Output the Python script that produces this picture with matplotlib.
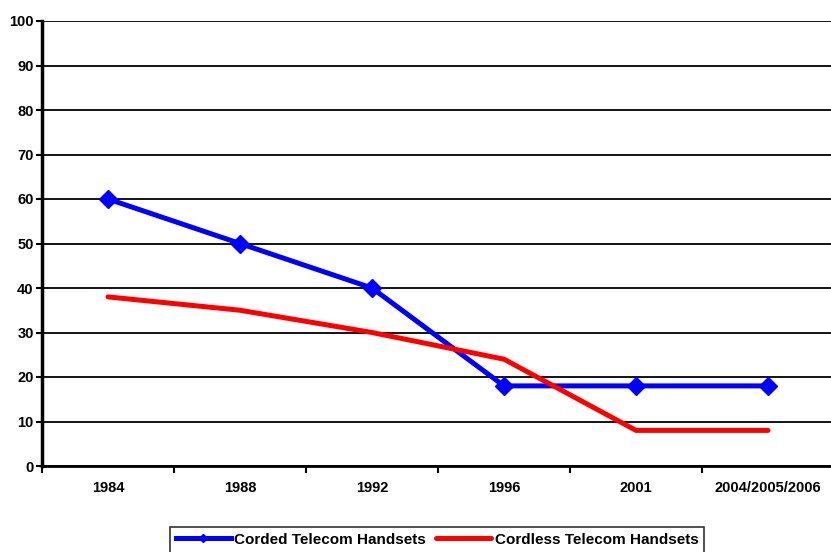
import matplotlib
matplotlib.use("Agg")
import matplotlib.pyplot as plt
import numpy as np

plt.rcParams['font.family'] = ['Liberation Sans', 'DejaVu Sans']

years = ['1984', '1988', '1992', '1996', '2001', '2004/2005/2006']
corded = [60, 50, 40, 18, 18, 18]
cordless = [38, 35, 30, 24, 8, 8]

fig = plt.figure(figsize=(8.31, 5.52), dpi=100)
ax = fig.add_axes([42/831, 1 - 466/552, 792/831, 445/552])

x = np.arange(len(years))
ax.plot(x, corded, color='#0000ff', lw=3.6, marker='D', ms=9,
        label='Corded Telecom Handsets', zorder=3)
ax.plot(x, cordless, color='#ff0000', lw=3.6, solid_capstyle='round',
        label='Cordless Telecom Handsets', zorder=3)

ax.set_xlim(-0.5, len(years) - 0.5)
ax.set_ylim(0, 100)
ax.set_yticks(range(0, 101, 10))
ax.set_xticks(x)
ax.set_xticklabels(years)
ax.set_xticks(np.arange(-0.5, len(years), 1), minor=True)
ax.tick_params(axis='x', which='major', length=0, pad=11)
ax.tick_params(axis='x', which='minor', length=5, width=1.5, direction='out')
ax.tick_params(axis='y', length=4, width=1.5, direction='out', pad=2)
for lab in ax.get_xticklabels() + ax.get_yticklabels():
    lab.set_fontweight('bold')
    lab.set_fontsize(10.5)

ax.grid(axis='y', color='black', lw=1.3)
ax.set_axisbelow(True)
ax.spines['left'].set_linewidth(2.5)
ax.spines['bottom'].set_linewidth(2)
ax.spines['top'].set_visible(False)
ax.spines['right'].set_visible(False)

leg = fig.legend(loc='upper center', bbox_to_anchor=(0.526, 0.06), ncol=2,
                 frameon=True, fancybox=False, edgecolor='black',
                 prop={'weight': 'bold', 'size': 11}, handlelength=3.6,
                 handletextpad=0.2, columnspacing=0.7, borderpad=0.4,
                 markerscale=0.5)
leg.get_frame().set_linewidth(1.2)

fig.savefig('out.png', dpi=100)
